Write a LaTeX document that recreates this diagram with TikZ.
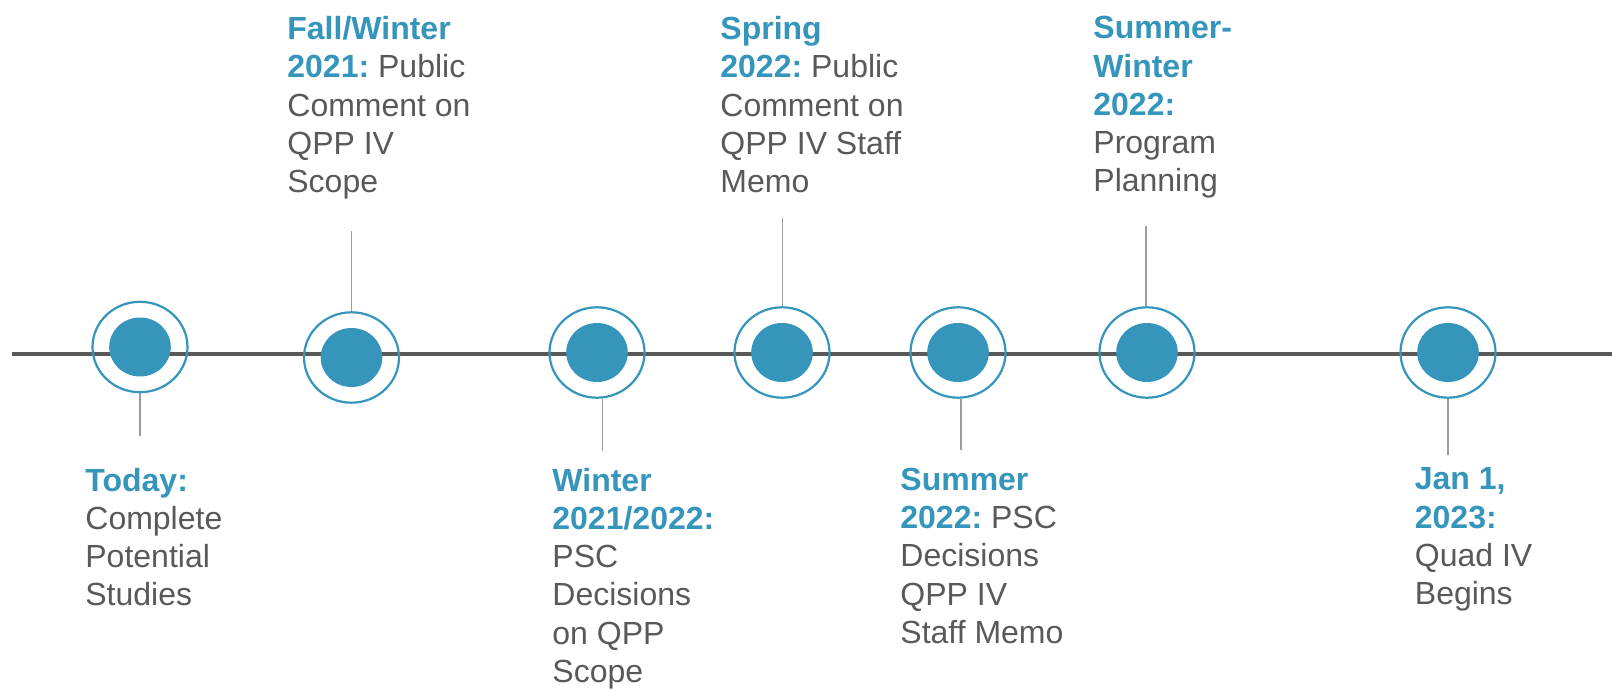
\documentclass[tikz,border=0pt]{standalone}
\usepackage{fontspec}
\setmainfont{Liberation Sans}
\usepackage{xcolor}
\usetikzlibrary{shapes.geometric}
\definecolor{tlBlue}{HTML}{3595BB}
\definecolor{tlGray}{HTML}{595959}
\definecolor{stemGray}{HTML}{9C9C9C}
\newcommand{\when}[1]{{\color{tlBlue}\bfseries #1}}
\frenchspacing

\begin{document}
\begin{tikzpicture}[x=0.5pt, y=-0.5pt,
  ring/.style={draw=tlBlue, line width=1.1pt, ellipse, inner sep=0pt, minimum width=47.5pt, minimum height=45.2pt},
  dot/.style={fill=tlBlue, ellipse, inner sep=0pt, minimum width=30.8pt, minimum height=29.5pt},
  stem/.style={draw=stemGray, line width=0.6pt},
  note/.style={anchor=north west, inner sep=0pt, align=left, text=tlGray, font=\fontsize{16}{19.15}\selectfont, execute at begin node={\vrule height 12pt width 0pt}}]
  \useasboundingbox (0,0) rectangle (1612,689);
  % time axis
  \coordinate (lineStart) at (12,354);
  \coordinate (lineEnd) at (1612,354);
  \draw[tlGray, line width=1.85pt] (lineStart) -- (lineEnd);
  % milestones
  \node[ring] (today) at (140,347) {};
  \node[dot] (todayDot) at (today) {};
  \node[ring] (fall21) at (351.5,357.5) {};
  \node[dot] (fall21Dot) at (fall21) {};
  \node[ring] (winter2122) at (597,352.5) {};
  \node[dot] (winter2122Dot) at (winter2122) {};
  \node[ring] (spring22) at (782,352.5) {};
  \node[dot] (spring22Dot) at (spring22) {};
  \node[ring] (summer22) at (958,352.5) {};
  \node[dot] (summer22Dot) at (summer22) {};
  \node[ring] (sumWin22) at (1147,352.5) {};
  \node[dot] (sumWin22Dot) at (sumWin22) {};
  \node[ring] (jan23) at (1448,352.5) {};
  \node[dot] (jan23Dot) at (jan23) {};
  % labels
  \node[note] (todayTxt) at (85,467.5) {\when{Today:}\\Complete\\Potential\\Studies};
  \node[note] (fall21Txt) at (287,16) {\when{Fall/Winter}\\\when{2021:} Public\\Comment on\\QPP IV\\Scope};
  \node[note] (winter2122Txt) at (552,467.5) {\when{Winter}\\\when{2021/2022:}\\PSC\\Decisions\\on QPP\\Scope};
  \node[note] (spring22Txt) at (720,16) {\when{Spring}\\\when{2022:} Public\\Comment on\\QPP IV Staff\\Memo};
  \node[note] (summer22Txt) at (900,467.5) {\when{Summer}\\\when{2022:} PSC\\Decisions\\QPP IV\\Staff Memo};
  \node[note] (sumWin22Txt) at (1093,16) {\when{Summer-}\\\when{Winter}\\\when{2022:}\\Program\\Planning};
  \node[note] (jan23Txt) at (1414.5,467.5) {\when{Jan 1,}\\\when{2023:}\\Quad IV\\Begins};
  % stems
  \coordinate (todayTip) at (140,436);
  \coordinate (fall21Tip) at (351.5,231);
  \coordinate (winter2122Tip) at (602.5,451);
  \coordinate (spring22Tip) at (782.5,218);
  \coordinate (summer22Tip) at (961,450);
  \coordinate (sumWin22Tip) at (1146,226.5);
  \coordinate (jan23Tip) at (1448,455);
  \draw[stem] (today.south) -- (todayTip);
  \draw[stem] (fall21.north) -- (fall21Tip);
  \draw[stem] (winter2122Tip |- winter2122.south) -- (winter2122Tip);
  \draw[stem] (spring22Tip |- spring22.north) -- (spring22Tip);
  \draw[stem] (summer22Tip |- summer22.south) -- (summer22Tip);
  \draw[stem] (sumWin22Tip |- sumWin22.north) -- (sumWin22Tip);
  \draw[stem] (jan23.south) -- (jan23Tip);
\end{tikzpicture}
\end{document}
